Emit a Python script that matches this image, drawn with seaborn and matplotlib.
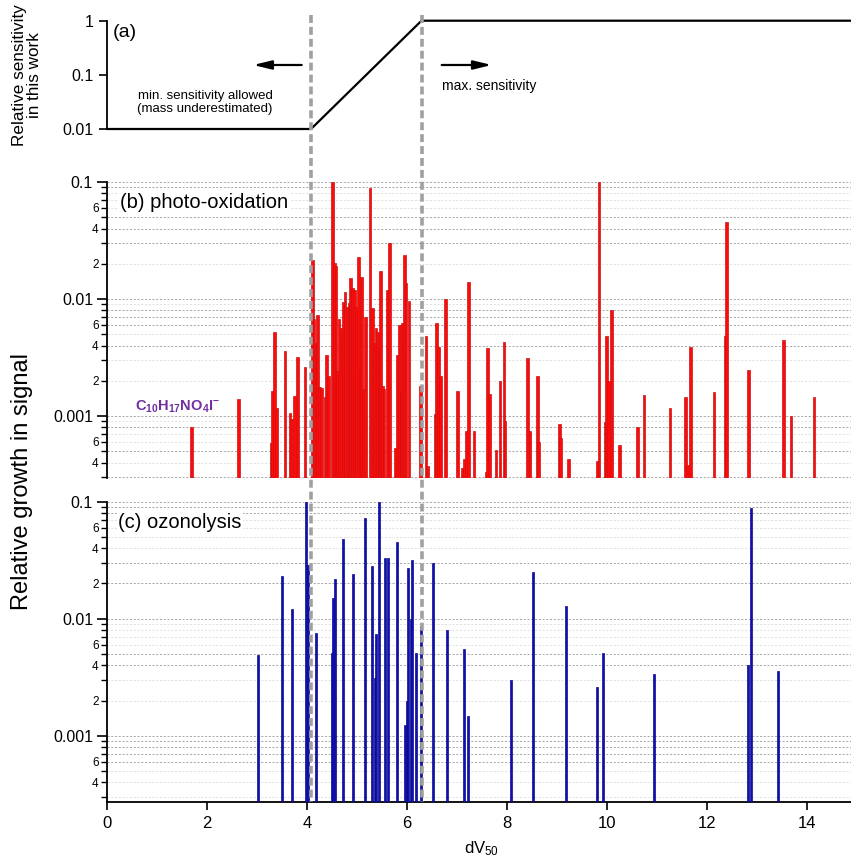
import numpy as np
import matplotlib
matplotlib.use("Agg")
import matplotlib.pyplot as plt
import seaborn as sns
from matplotlib.ticker import FixedLocator, FuncFormatter, NullLocator
from matplotlib.lines import Line2D
import matplotlib.transforms as mtransforms

# ---------------- data ----------------
sens_x = [0, 4.08, 6.29, 15]
sens_y = [0.01, 0.01, 1, 1]
boundary_x = [4.08, 6.29]

photo_dv50 = [1.69, 2.63, 3.28, 3.31, 3.35, 3.39, 3.56, 3.66, 3.69, 3.75, 3.81, 3.96,
              4.11, 4.14, 4.18, 4.21, 4.25, 4.29, 4.36, 4.39, 4.43, 4.51, 4.55, 4.58,
              4.61, 4.64, 4.69, 4.73, 4.76, 4.81, 4.85, 4.87, 4.91, 4.95, 4.98, 5.03,
              5.06, 5.09, 5.12, 5.17, 5.26, 5.31, 5.34, 5.38, 5.41, 5.45, 5.47, 5.51,
              5.54, 5.61, 5.65, 5.77, 5.81, 5.85, 5.88, 5.91, 5.95, 5.98, 6.04, 6.27,
              6.38, 6.41, 6.56, 6.59, 6.63, 6.67, 6.77, 7.01, 7.11, 7.15, 7.19, 7.23,
              7.34, 7.58, 7.61, 7.65, 7.78, 7.86, 7.94, 7.96, 8.41, 8.46, 8.61, 8.63,
              9.05, 9.07, 9.23, 9.81, 9.84, 9.96, 9.99, 10.03, 10.09, 10.25, 10.61, 10.74,
              11.26, 11.57, 11.61, 11.67, 12.14, 12.37, 12.39, 12.83, 13.53, 13.68, 14.14]
photo_growth = [0.0008, 0.00139, 0.00059, 0.00162, 0.0052, 0.00118, 0.0036, 0.00105, 0.00095, 0.00148, 0.0032, 0.0026,
                0.0216, 0.0068, 0.0042, 0.0073, 0.00178, 0.00173, 0.00146, 0.0033, 0.0022, 0.1, 0.0202, 0.019,
                0.0024, 0.0068, 0.0056, 0.0095, 0.0115, 0.0086, 0.0092, 0.015, 0.0124, 0.012, 0.0085, 0.023,
                0.0025, 0.0155, 0.0017, 0.007, 0.088, 0.0083, 0.0042, 0.0056, 0.0052, 0.0038, 0.0174, 0.0018,
                0.0017, 0.012, 0.030, 0.00053, 0.0033, 0.006, 0.0016, 0.0062, 0.024, 0.0136, 0.0096, 0.0018,
                0.0048, 0.00037, 0.00104, 0.0062, 0.0039, 0.0022, 0.01, 0.00165, 0.00036, 0.00043, 0.00074, 0.0141,
                0.00074, 0.00033, 0.0038, 0.00155, 0.00051, 0.0020, 0.0043, 0.00091, 0.0031, 0.00074, 0.0022, 0.0006,
                0.00085, 0.00065, 0.00043, 0.00041, 0.1, 0.00089, 0.0048, 0.002, 0.008, 0.00056, 0.0008, 0.0015,
                0.00117, 0.00144, 0.00038, 0.0039, 0.0016, 0.0048, 0.0457, 0.00245, 0.0045, 0.001, 0.00146]

ozon_dv50 = [3.01, 3.50, 3.70, 3.97, 4.01, 4.17, 4.49, 4.52, 4.56, 4.71, 4.91, 5.15,
             5.30, 5.36, 5.38, 5.43, 5.56, 5.61, 5.79, 5.95, 5.99, 6.02, 6.07, 6.09,
             6.17, 6.27, 6.52, 6.81, 7.13, 7.22, 8.08, 8.51, 9.17, 9.79, 9.91, 10.93,
             12.82, 12.87, 13.41]
ozon_growth = [0.0049, 0.0233, 0.0121, 0.1, 0.0288, 0.0075, 0.0051, 0.0149, 0.0218, 0.048, 0.024, 0.072,
               0.028, 0.0031, 0.0074, 0.1, 0.0328, 0.0333, 0.045, 0.00123, 0.002, 0.0273, 0.01, 0.032,
               0.0051, 0.0086, 0.0297, 0.008, 0.0055, 0.00147, 0.003, 0.025, 0.0128, 0.0026, 0.0051, 0.0034,
               0.004, 0.088, 0.0036]

# ---------------- style ----------------
sns.set_theme(style="white")
plt.rcParams['font.family'] = ['Liberation Sans', 'DejaVu Sans']
plt.rcParams['mathtext.fontset'] = 'custom'
plt.rcParams['mathtext.rm'] = 'Liberation Sans'
plt.rcParams['mathtext.it'] = 'Liberation Sans:italic'
plt.rcParams['mathtext.bf'] = 'Liberation Sans:bold'

W, H = 851, 860
fig = plt.figure(figsize=(W / 100, H / 100), dpi=100)
fig.patch.set_facecolor('white')


def ax_rect(top, bottom, left=107, right=857):
    return [left / W, 1 - bottom / H, (right - left) / W, (bottom - top) / H]


axa = fig.add_axes(ax_rect(20.7, 129))
axb = fig.add_axes(ax_rect(182, 478))
axc = fig.add_axes(ax_rect(501.7, 801.7))

# ---------------- panel (a) ----------------
sns.lineplot(x=sens_x, y=sens_y, ax=axa, color='black', lw=1.6, clip_on=False)
axa.set_yscale('log')
axa.set_xlim(0, 15)
axa.set_ylim(0.01, 1)
for s in ['top', 'right', 'bottom']:
    axa.spines[s].set_visible(False)
axa.spines['left'].set_linewidth(1.3)
axa.spines['left'].set_color('black')
axa.yaxis.set_major_locator(FixedLocator([0.01, 0.1, 1]))
axa.yaxis.set_major_formatter(FuncFormatter(lambda v, p: {0.01: '0.01', 0.1: '0.1', 1: '1'}.get(round(v, 4), '')))
axa.yaxis.set_minor_locator(NullLocator())
axa.tick_params(axis='y', which='major', direction='out', length=6, width=1.2, labelsize=11.5,
                left=True, color='black', labelcolor='black')
axa.tick_params(axis='x', bottom=False, labelbottom=False)
axa.set_xlabel('')
axa.set_ylabel('')

axa.text(0.008, 0.895, '(a)', transform=axa.transAxes, va='center', ha='left', fontsize=14, color='black')
axa.text(0.1307, 0.245, 'min. sensitivity allowed\n(mass underestimated)', transform=axa.transAxes,
         ha='center', va='center', multialignment='center', fontsize=9.5, linespacing=1.15, color='black')
axa.text(0.446, 0.397, 'max. sensitivity', transform=axa.transAxes, ha='left', va='center', fontsize=10,
         color='black')
arrow_kw = dict(arrowstyle='-|>,head_length=0.9,head_width=0.22', color='black', lw=1.6,
                shrinkA=0, shrinkB=0)
axa.annotate('', xy=(0.195, 0.591), xytext=(0.2596, 0.591), xycoords='axes fraction',
             textcoords='axes fraction', arrowprops=arrow_kw)
axa.annotate('', xy=(0.5129, 0.591), xytext=(0.4463, 0.591), xycoords='axes fraction',
             textcoords='axes fraction', arrowprops=arrow_kw)

# ---------------- panels (b) & (c) ----------------
strong_b = [0.1, 0.09, 0.05, 0.04, 0.03, 0.01, 0.008, 0.007, 0.006, 0.004, 0.001, 0.0008, 0.0005, 0.0003]
strong_c = [0.1, 0.09, 0.08, 0.03, 0.02, 0.01, 0.005, 0.004, 0.001, 0.0009, 0.0008, 0.0007, 0.0006]
all_levels = [k * 10.0 ** e for e in (-4, -3, -2) for k in range(1, 10)] + [0.1]


def minor_fmt(v, p):
    e = np.floor(np.log10(v) + 1e-9)
    k = int(round(v / 10 ** e))
    return str(k) if k in (2, 4, 6) else ''


def major_fmt(v, p):
    return {0.1: '0.1', 0.01: '0.01', 0.001: '0.001'}.get(round(v, 6), '')


def style_panel(ax, ylow, strong, xaxis):
    ax.set_yscale('log')
    ax.set_xlim(0, 15)
    ax.set_ylim(ylow, 0.1)
    for lv in all_levels:
        if lv < ylow * 0.999 or lv > 0.1001:
            continue
        is_strong = any(abs(lv - s) / s < 1e-6 for s in strong)
        ax.axhline(lv, color='#9a9a9a' if is_strong else '#dcdcdc', lw=0.6,
                   ls=(0, (2.5, 2)), zorder=1)
    for s in ['top', 'right']:
        ax.spines[s].set_visible(False)
    ax.spines['left'].set_linewidth(1.3)
    ax.spines['left'].set_color('black')
    ax.yaxis.set_major_locator(FixedLocator([0.001, 0.01, 0.1]))
    ax.yaxis.set_major_formatter(FuncFormatter(major_fmt))
    minors = [k * 10.0 ** e for e in (-4, -3, -2) for k in range(2, 10)]
    minors = [m for m in minors if ylow * 0.999 <= m <= 0.1]
    ax.yaxis.set_minor_locator(FixedLocator(minors))
    ax.yaxis.set_minor_formatter(FuncFormatter(minor_fmt))
    ax.tick_params(axis='y', which='major', direction='out', length=7, width=1.2, labelsize=11.5,
                   left=True, color='black', labelcolor='black', pad=3)
    ax.tick_params(axis='y', which='minor', direction='out', length=4, width=1.0, labelsize=8.5,
                   left=True, color='black', labelcolor='black', pad=2)
    if xaxis:
        ax.spines['bottom'].set_linewidth(1.3)
        ax.spines['bottom'].set_color('black')
        ax.set_xticks(np.arange(0, 15, 2))
        ax.tick_params(axis='x', which='major', direction='out', length=6, width=1.2,
                       labelsize=12, bottom=True, color='black', labelcolor='black', pad=4)
    else:
        ax.spines['bottom'].set_visible(False)
        ax.tick_params(axis='x', bottom=False, labelbottom=False)


base_b = 2.95e-4
base_c = 2.73e-4
axb.bar(photo_dv50, np.array(photo_growth) - base_b, bottom=base_b, width=0.045,
        color='#ff0a0a', edgecolor='#c81414', lw=0.5, zorder=3)
axc.bar(ozon_dv50, np.array(ozon_growth) - base_c, bottom=base_c, width=0.04,
        color='#1010b8', edgecolor='#0a0a8a', lw=0.5, zorder=3)
style_panel(axb, base_b, strong_b, False)
style_panel(axc, base_c, strong_c, True)
axc.set_xlabel('dV$_{50}$', fontsize=12, color='black', labelpad=6)

txt_box = dict(facecolor='white', edgecolor='none', pad=1.0)
axb.text(0.0173, 0.932, '(b) photo-oxidation', transform=axb.transAxes, ha='left', va='center',
         fontsize=14.5, color='black', bbox=txt_box, zorder=4)
axc.text(0.0147, 0.929, '(c) ozonolysis', transform=axc.transAxes, ha='left', va='center',
         fontsize=14.5, color='black', bbox=txt_box, zorder=4)
axb.text(0.0373, 0.24, r'$\mathbf{C_{10}H_{17}NO_{4}I^{-}}$', transform=axb.transAxes, ha='left',
         va='center', fontsize=10.5, color='#7030a0', zorder=4)

# y labels
fig.text(27 / W, 1 - 75 / H, 'Relative sensitivity\nin this work', rotation=90, ha='center', va='center',
         multialignment='center', fontsize=12.3, linespacing=1.05, color='black')
fig.text(22 / W, 1 - 481 / H, 'Relative growth in signal', rotation=90, ha='center', va='center',
         fontsize=17, color='black')

# dashed boundaries across all panels
trans = mtransforms.blended_transform_factory(axc.transData, fig.transFigure)
for xv in boundary_x:
    fig.add_artist(Line2D([xv, xv], [1 - 15 / H, 1 - 801.7 / H], transform=trans, color='#a0a0a0',
                          lw=2.6, dashes=(2.2, 1.1), zorder=10))

fig.savefig('out.png', dpi=100, facecolor='white')
